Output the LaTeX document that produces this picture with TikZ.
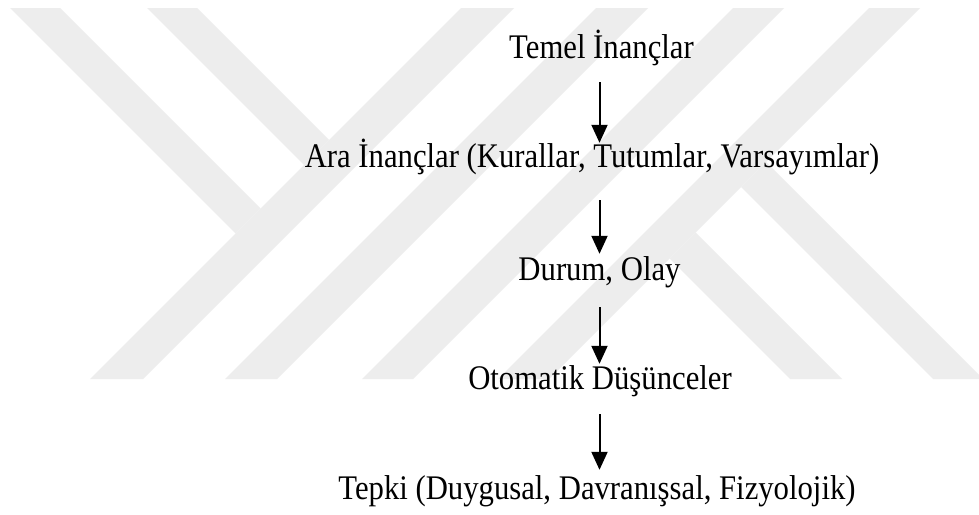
\documentclass[tikz,border=0pt]{standalone}
\usepackage{fontspec}
\setmainfont{Liberation Serif}[FakeStretch=0.89]
\usetikzlibrary{arrows.meta}
\definecolor{wmgray}{RGB}{237,237,237}
\begin{document}
\begin{tikzpicture}[x=1pt,y=-1pt,
  wm/.style={fill=wmgray,draw=none},
  lbl/.style={anchor=base,inner sep=0pt,text height=24pt,text depth=7pt,font=\fontsize{34.5}{40}\selectfont},
  arr/.style={line width=2pt,-{Triangle[width=16pt,length=18pt]}}]
\useasboundingbox (0,0) rectangle (979,514);
\fill[white] (0,0) rectangle (979,514);
\begin{scope}
\clip (0,0) rectangle (979,514);
% watermark bands
\fill[wm] (90,379) -- (143,379) -- (514,8) -- (461,8) -- cycle;
\fill[wm] (225,379) -- (277,379) -- (648,8) -- (596,8) -- cycle;
\fill[wm] (362,379) -- (413,379) -- (784,8) -- (733,8) -- cycle;
\fill[wm] (498,379) -- (549,379) -- (920,8) -- (869,8) -- cycle;
\fill[wm] (10,8) -- (60,8) -- (260.5,208.5) -- (235.5,233.5) -- cycle;
\fill[wm] (147,8) -- (197,8) -- (329,140) -- (304,165) -- cycle;
\fill[wm] (790,379) -- (842,379) -- (695.5,232.5) -- (669.5,258.5) -- cycle;
\fill[wm] (933,379) -- (983,379) -- (766,162) -- (741,187) -- cycle;
\end{scope}
% texts
\node[lbl] (t1) at (601.5,58) {Temel İnançlar};
\node[lbl] (t2) at (592,167) {Ara İnançlar (Kurallar, Tutumlar, Varsayımlar)};
\node[lbl] (t3) at (599.5,280) {Durum, Olay};
\node[lbl] (t4) at (600,389) {Otomatik Düşünceler};
\node[lbl] (t5) at (597,499) {Tepki (Duygusal, Davranışsal, Fizyolojik)};
\coordinate (ax) at (599.5,0);
% arrows
\draw[arr,shorten <=17pt] (t1.south -| ax) -- (t2.north -| ax);
\draw[arr,shorten <=26pt,shorten >=2pt] (t2.south -| ax) -- (t3.north -| ax);
\draw[arr,shorten <=20pt,shorten >=1pt] (t3.south -| ax) -- (t4.north -| ax);
\draw[arr,shorten <=18pt,shorten >=5pt] (t4.south -| ax) -- (t5.north -| ax);
\end{tikzpicture}
\end{document}
